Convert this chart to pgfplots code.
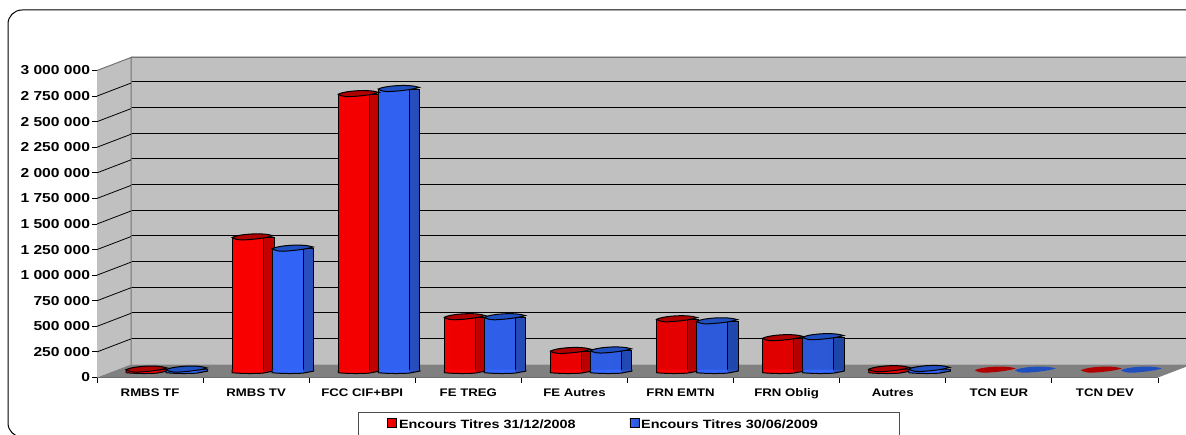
\documentclass[border=0pt]{standalone}
\usepackage{pgfplots}
\pgfplotsset{compat=1.18}
\usepackage{pgfplotstable}
\usepackage{fontspec}
\setmainfont[FakeStretch=1.2]{Liberation Sans}

\definecolor{wall}{HTML}{C0C0C0}
\definecolor{floorc}{HTML}{808080}
\definecolor{redtop}{HTML}{B00000}
\definecolor{redside}{HTML}{C80000}
\definecolor{redend}{HTML}{DA0000}
\definecolor{bluetop}{HTML}{2050C0}
\definecolor{blueface}{HTML}{3366FF}
\definecolor{blueend}{HTML}{2A55CC}
\definecolor{blueside}{HTML}{2A50C4}

\pgfplotstableread{
x   red     blue
0.5 8000    8000
1.5 1300000 1190000
2.5 2700000 2750000
3.5 520000  520000
4.5 190000  195000
5.5 500000  480000
6.5 315000  325000
7.5 12000   14000
8.5 3000    3000
9.5 3000    3000
}\encours

% top and foot of a cylinder, from its left corner
\newcommand\cylpath{%
  \pgfpathmoveto{\pgfqpoint{0pt}{0pt}}
  \pgfpathcurveto{\pgfqpoint{5pt}{3pt}}{\pgfqpoint{30pt}{5.5pt}}{\pgfqpoint{41pt}{1.7pt}}
  \pgfpathcurveto{\pgfqpoint{32pt}{-1pt}}{\pgfqpoint{20pt}{-2pt}}{\pgfqpoint{11pt}{-2.5pt}}
  \pgfpathcurveto{\pgfqpoint{6pt}{-2.7pt}}{\pgfqpoint{2pt}{-1.5pt}}{\pgfqpoint{0pt}{0pt}}
  \pgfpathclose}
\newcommand\cyltop[1]{\cylpath\pgfsetfillcolor{#1}\pgfusepath{fill,stroke}}
\newcommand\cylflat[1]{\cylpath\pgfsetfillcolor{#1}\pgfusepath{fill}}
\newcommand\cylfoot[2]{%
  \pgfpathmoveto{\pgfqpoint{0pt}{1pt}}
  \pgfpathlineto{\pgfqpoint{0pt}{-2.2pt}}
  \pgfpathcurveto{\pgfqpoint{10pt}{-3.2pt}}{\pgfqpoint{22pt}{-3.2pt}}{\pgfqpoint{31pt}{-2.6pt}}
  \pgfpathlineto{\pgfqpoint{31pt}{1pt}}
  \pgfpathclose
  \pgfsetfillcolor{#1}
  \pgfusepath{fill}
  \pgfpathmoveto{\pgfqpoint{31pt}{1pt}}
  \pgfpathlineto{\pgfqpoint{31pt}{-2.6pt}}
  \pgfpathlineto{\pgfqpoint{41.5pt}{-0.6pt}}
  \pgfpathlineto{\pgfqpoint{41.5pt}{1pt}}
  \pgfpathclose
  \pgfsetfillcolor{#2}
  \pgfusepath{fill}
  \pgfpathmoveto{\pgfqpoint{0pt}{1pt}}
  \pgfpathlineto{\pgfqpoint{0pt}{-2.2pt}}
  \pgfpathcurveto{\pgfqpoint{10pt}{-3.2pt}}{\pgfqpoint{22pt}{-3.2pt}}{\pgfqpoint{31pt}{-2.6pt}}
  \pgfpathlineto{\pgfqpoint{41.5pt}{-0.6pt}}
  \pgfpathlineto{\pgfqpoint{41.5pt}{1pt}}
  \pgfusepath{stroke}}
\pgfdeclareplotmark{toprouge}{\pgftransformshift{\pgfqpoint{-40.5pt}{0pt}}\cyltop{redtop}}
\pgfdeclareplotmark{topbleu}{\pgftransformshift{\pgfqpoint{-0.5pt}{0pt}}\cyltop{bluetop}}
\pgfdeclareplotmark{platrouge}{\pgftransformshift{\pgfqpoint{-40.5pt}{0pt}}\cylflat{redtop}}
\pgfdeclareplotmark{platbleu}{\pgftransformshift{\pgfqpoint{-0.5pt}{0pt}}\cylflat{bluetop}}
\pgfdeclareplotmark{footrouge}{\pgftransformshift{\pgfqpoint{-40.5pt}{0pt}}\cylfoot{red}{redside}}
\pgfdeclareplotmark{footbleu}{\pgftransformshift{\pgfqpoint{-0.5pt}{0pt}}\cylfoot{blueface}{blueside}}

\begin{document}
\begin{tikzpicture}[x=1pt,y=1pt,font=\bfseries]
\useasboundingbox (0,0) rectangle (1186,434);
\begin{scope}
\clip (0,0) rectangle (1186,434);
\draw[black,line width=1pt,rounded corners=14pt] (8,-3) rectangle (1220,424);

% back wall with its grid
\begin{axis}[
  at={(131pt,70pt)}, anchor=south west,
  scale only axis, width=1061pt, height=308pt,
  xmin=0, xmax=10, ymin=0, ymax=3000000,
  scaled y ticks=false,
  axis background/.style={fill=wall},
  axis line style={draw=none},
  xtick=\empty,
  ytick={250000,500000,750000,1000000,1250000,1500000,1750000,2000000,2250000,2500000,2750000}, yticklabels={},
  ymajorgrids, major tick length=0pt,
  grid style={black,line width=0.8pt},
  clip=false,
]
\end{axis}

% side wall, floor, ticks and labels
\begin{axis}[
  at={(97pt,56.5pt)}, anchor=south west,
  scale only axis, width=1061pt, height=307pt,
  xmin=0, xmax=10, ymin=0, ymax=3000000,
  scaled y ticks=false,
  axis x line*=bottom, axis y line*=left,
  axis line style={black!70,line width=1pt},
  xtick={0,1,2,3,4,5,6,7,8,9,10}, xticklabels={},
  extra x ticks={0.5,1.5,2.5,3.5,4.5,5.5,6.5,7.5,8.5,9.5},
  extra x tick labels={RMBS TF,RMBS TV,FCC CIF+BPI,FE TREG,FE Autres,FRN EMTN,FRN Oblig,Autres,TCN EUR,TCN DEV},
  extra x tick style={major tick length=0pt},
  ytick={0,250000,500000,750000,1000000,1250000,1500000,1750000,2000000,2250000,2500000,2750000,3000000},
  yticklabels={0,250 000,500 000,750 000,1 000 000,1 250 000,1 500 000,1 750 000,2 000 000,2 250 000,2 500 000,2 750 000,3 000 000},
  yticklabel style={font=\bfseries\fontsize{13}{13}\selectfont,xshift=1.5pt},
  xticklabel style={font=\bfseries\fontsize{11}{11}\selectfont,yshift=-7pt,text height=8pt,text depth=2pt},
  tick style={black,line width=0.9pt},
  tick align=outside, major tick length=5pt,
  clip=false,
]
\fill[wall] (axis cs:0,0) -- ++(34pt,13pt) -- ++(0,307pt) -- (axis cs:0,3000000) -- cycle;
\fill[floorc] (axis cs:0,0) -- ++(34pt,13pt) -- ++(1061pt,0pt) -- (axis cs:10,0) -- cycle;
\draw[black!55,line width=1pt] (axis cs:0,3000000) -- ++(34pt,13pt) -- ++(0,-307pt);
\draw[black!55,line width=1pt] (axis cs:0,3000000) ++(34pt,13pt) -- ++(1061pt,0);
\pgfplotsinvokeforeach{250000,500000,750000,1000000,1250000,1500000,1750000,2000000,2250000,2500000,2750000}{
  \draw[black,line width=0.8pt] (axis cs:0,#1) -- ++(34pt,13pt);
}
\end{axis}

% bars, in the middle of the depth
\begin{axis}[
  at={(113.5pt,63.5pt)}, anchor=south west,
  scale only axis, width=1061pt, height=307pt,
  xmin=0, xmax=10, ymin=0, ymax=3000000,
  hide axis, clip=false,
  legend columns=2,
  legend cell align=left,
  legend style={at={(244.5pt,-41.5pt)}, anchor=north west,
    draw=black!70, line width=0.8pt,
    inner xsep=29pt, inner ysep=5pt,
    font=\bfseries\fontsize{12}{12}\selectfont,
    nodes={text depth=20pt},
    /tikz/every even column/.append style={column sep=52pt}},
]
\addplot[ybar,bar width=11pt,bar shift=-4pt,draw=black,line width=1pt,left color=redside,right color=redtop,forget plot,
  restrict y to domain=5000:3000000] table[x=x,y=red]{\encours};
\addplot[ybar,bar width=31pt,bar shift=-25pt,draw=black,line width=1pt,left color=red,middle color=red,right color=redend,
  restrict y to domain=5000:3000000,
  legend image code/.code={\draw[black,line width=0.6pt,fill=red] (0pt,6pt) rectangle (9pt,15pt);}] table[x=x,y=red]{\encours};
\addlegendentry{Encours Titres 31/12/2008}
\addplot[only marks,mark=footrouge,line width=1pt,draw=black,forget plot,
  restrict expr to domain={\thisrow{red}}{5000:3000000}] table[x=x,y expr=0]{\encours};
\addplot[only marks,mark=toprouge,line width=1pt,draw=black,forget plot,
  restrict y to domain=5000:3000000] table[x=x,y=red]{\encours};
\addplot[only marks,mark=platrouge,forget plot,
  restrict y to domain=0:5000] table[x=x,y=red]{\encours};
\addplot[ybar,bar width=11pt,bar shift=35.5pt,draw=black,line width=1pt,left color=blueside,right color=bluetop!85!black,forget plot,
  restrict y to domain=5000:3000000] table[x=x,y=blue]{\encours};
\addplot[ybar,bar width=31pt,bar shift=15pt,draw=black,line width=1pt,left color=blueface,middle color=blueface,right color=blueend,
  restrict y to domain=5000:3000000,
  legend image code/.code={\draw[black,line width=0.6pt,fill=blueface] (0pt,6pt) rectangle (9pt,15pt);}] table[x=x,y=blue]{\encours};
\addlegendentry{Encours Titres 30/06/2009\rule{51pt}{0pt}}
\addplot[only marks,mark=footbleu,line width=1pt,draw=black,forget plot,
  restrict expr to domain={\thisrow{blue}}{5000:3000000}] table[x=x,y expr=0]{\encours};
\addplot[only marks,mark=topbleu,line width=1pt,draw=black,forget plot,
  restrict y to domain=5000:3000000] table[x=x,y=blue]{\encours};
\addplot[only marks,mark=platbleu,forget plot,
  restrict y to domain=0:5000] table[x=x,y=blue]{\encours};
\end{axis}
\end{scope}
\end{tikzpicture}
\end{document}
